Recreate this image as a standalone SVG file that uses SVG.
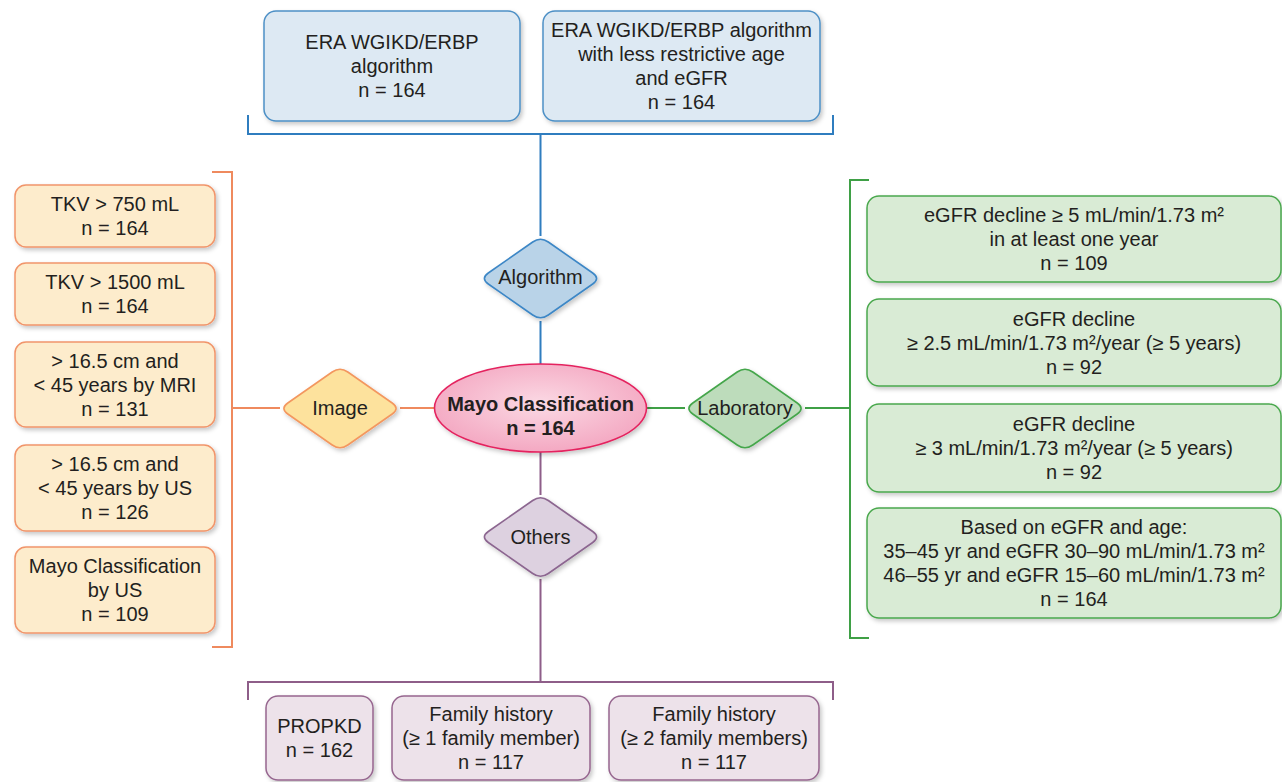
<svg xmlns="http://www.w3.org/2000/svg" width="1282" height="782" viewBox="0 0 1282 782">
<defs>
<filter id="sh" x="-10%" y="-10%" width="125%" height="130%">
<feDropShadow dx="2" dy="2.5" stdDeviation="2" flood-color="#000" flood-opacity="0.22"/>
</filter>
<radialGradient id="pink" cx="50%" cy="45%" r="60%">
<stop offset="0" stop-color="#fbd9e4"/>
<stop offset="1" stop-color="#f3a4bf"/>
</radialGradient>
<path id="dia" d="M -7.8,-36.5 Q 0,-42 7.8,-36.5 L 52.2,-5.5 Q 60,0 52.2,5.5 L 7.8,36.5 Q 0,42 -7.8,36.5 L -52.2,5.5 Q -60,0 -52.2,-5.5 Z"/>
</defs>
<style>
text{font-family:"Liberation Sans",Arial,sans-serif;font-size:20px;fill:#231f20;text-anchor:middle}
.b{font-weight:bold}
.box{filter:url(#sh);stroke-width:1.5}
.blue{fill:#dde9f3;stroke:#4d90c6}
.orange{fill:#fdeccc;stroke:#f1956b}
.green{fill:#d9ebd5;stroke:#4aa84d}
.purple{fill:#ede2ea;stroke:#96668f}
.ln{fill:none;stroke-width:2}
</style>
<rect width="1282" height="782" fill="#ffffff"/>

<g id="connectors" class="ln">
<path d="M248,115 V134 H833 V115 M540.5,134 V236 M540.5,321 V364" stroke="#2f7dbf"/>
<path d="M212,172 H232 V647 H212 M232,408 H280 M400,408 H435" stroke="#ef8a5e"/>
<path d="M869,180 H850 V638 H869 M646,408 H685 M805,408 H850" stroke="#3fa046"/>
<path d="M540.5,452 V495 M540.5,579 V682 M248,700 V682 H833 V700" stroke="#8e5e89"/>
</g>

<g id="top-box-1"><rect class="box blue" x="264" y="11" width="256" height="110" rx="12"/>
<text x="392" y="49">ERA WGIKD/ERBP</text><text x="392" y="73">algorithm</text><text x="392" y="97">n = 164</text></g>
<g id="top-box-2"><rect class="box blue" x="543" y="11" width="277" height="110" rx="12"/>
<text x="681.5" y="37">ERA WGIKD/ERBP algorithm</text><text x="681.5" y="61">with less restrictive age</text><text x="681.5" y="85">and eGFR</text><text x="681.5" y="109">n = 164</text></g>

<g id="left-box-1"><rect class="box orange" x="15" y="185" width="200" height="62" rx="11"/>
<text x="115" y="211">TKV &gt; 750 mL</text><text x="115" y="235">n = 164</text></g>
<g id="left-box-2"><rect class="box orange" x="15" y="263" width="200" height="62" rx="11"/>
<text x="115" y="289">TKV &gt; 1500 mL</text><text x="115" y="313">n = 164</text></g>
<g id="left-box-3"><rect class="box orange" x="15" y="342" width="200" height="85" rx="11"/>
<text x="115" y="367.5">&gt; 16.5 cm and</text><text x="115" y="391.5">&lt; 45 years by MRI</text><text x="115" y="415.5">n = 131</text></g>
<g id="left-box-4"><rect class="box orange" x="15" y="445" width="200" height="86" rx="11"/>
<text x="115" y="471">&gt; 16.5 cm and</text><text x="115" y="495">&lt; 45 years by US</text><text x="115" y="519">n = 126</text></g>
<g id="left-box-5"><rect class="box orange" x="15" y="547" width="200" height="86" rx="11"/>
<text x="115" y="573">Mayo Classification</text><text x="115" y="597">by US</text><text x="115" y="621">n = 109</text></g>

<g id="right-box-1"><rect class="box green" x="867" y="196" width="414" height="86" rx="12"/>
<text x="1074" y="222">eGFR decline ≥ 5 mL/min/1.73 m²</text><text x="1074" y="246">in at least one year</text><text x="1074" y="270">n = 109</text></g>
<g id="right-box-2"><rect class="box green" x="867" y="299" width="414" height="87" rx="12"/>
<text x="1074" y="325.5">eGFR decline</text><text x="1074" y="349.5">≥ 2.5 mL/min/1.73 m²/year (≥ 5 years)</text><text x="1074" y="373.5">n = 92</text></g>
<g id="right-box-3"><rect class="box green" x="867" y="404" width="414" height="88" rx="12"/>
<text x="1074" y="431">eGFR decline</text><text x="1074" y="455">≥ 3 mL/min/1.73 m²/year (≥ 5 years)</text><text x="1074" y="479">n = 92</text></g>
<g id="right-box-4"><rect class="box green" x="867" y="508" width="414" height="110" rx="12"/>
<text x="1074" y="534">Based on eGFR and age:</text><text x="1074" y="558">35–45 yr and eGFR 30–90 mL/min/1.73 m²</text><text x="1074" y="582">46–55 yr and eGFR 15–60 mL/min/1.73 m²</text><text x="1074" y="606">n = 164</text></g>

<g id="bottom-box-1"><rect class="box purple" x="266" y="696" width="107" height="84" rx="12"/>
<text x="319.5" y="733">PROPKD</text><text x="319.5" y="757">n = 162</text></g>
<g id="bottom-box-2"><rect class="box purple" x="392" y="696" width="198" height="84" rx="12"/>
<text x="491" y="721">Family history</text><text x="491" y="745">(≥ 1 family member)</text><text x="491" y="769">n = 117</text></g>
<g id="bottom-box-3"><rect class="box purple" x="609" y="696" width="210" height="84" rx="12"/>
<text x="714" y="721">Family history</text><text x="714" y="745">(≥ 2 family members)</text><text x="714" y="769">n = 117</text></g>

<g id="algorithm"><use href="#dia" transform="translate(540.5,278.5)" fill="#b9d3e8" stroke="#3d87c6" stroke-width="1.6" filter="url(#sh)"/>
<text x="540.5" y="284">Algorithm</text></g>
<g id="image"><use href="#dia" transform="translate(340,408.5)" fill="#fde29d" stroke="#f3975f" stroke-width="1.6" filter="url(#sh)"/>
<text x="340" y="415">Image</text></g>
<g id="laboratory"><use href="#dia" transform="translate(745,408.5)" fill="#bddcbb" stroke="#45a64b" stroke-width="1.6" filter="url(#sh)"/>
<text x="745" y="415">Laboratory</text></g>
<g id="others"><use href="#dia" transform="translate(540.5,537)" fill="#ddd1e0" stroke="#8c6690" stroke-width="1.6" filter="url(#sh)"/>
<text x="540.5" y="544">Others</text></g>

<g id="mayo"><ellipse cx="540.5" cy="408" rx="106" ry="44" fill="url(#pink)" stroke="#e4245f" stroke-width="1.6" filter="url(#sh)"/>
<text class="b" x="540.5" y="411">Mayo Classification</text><text class="b" x="540.5" y="435">n = 164</text></g>
</svg>
